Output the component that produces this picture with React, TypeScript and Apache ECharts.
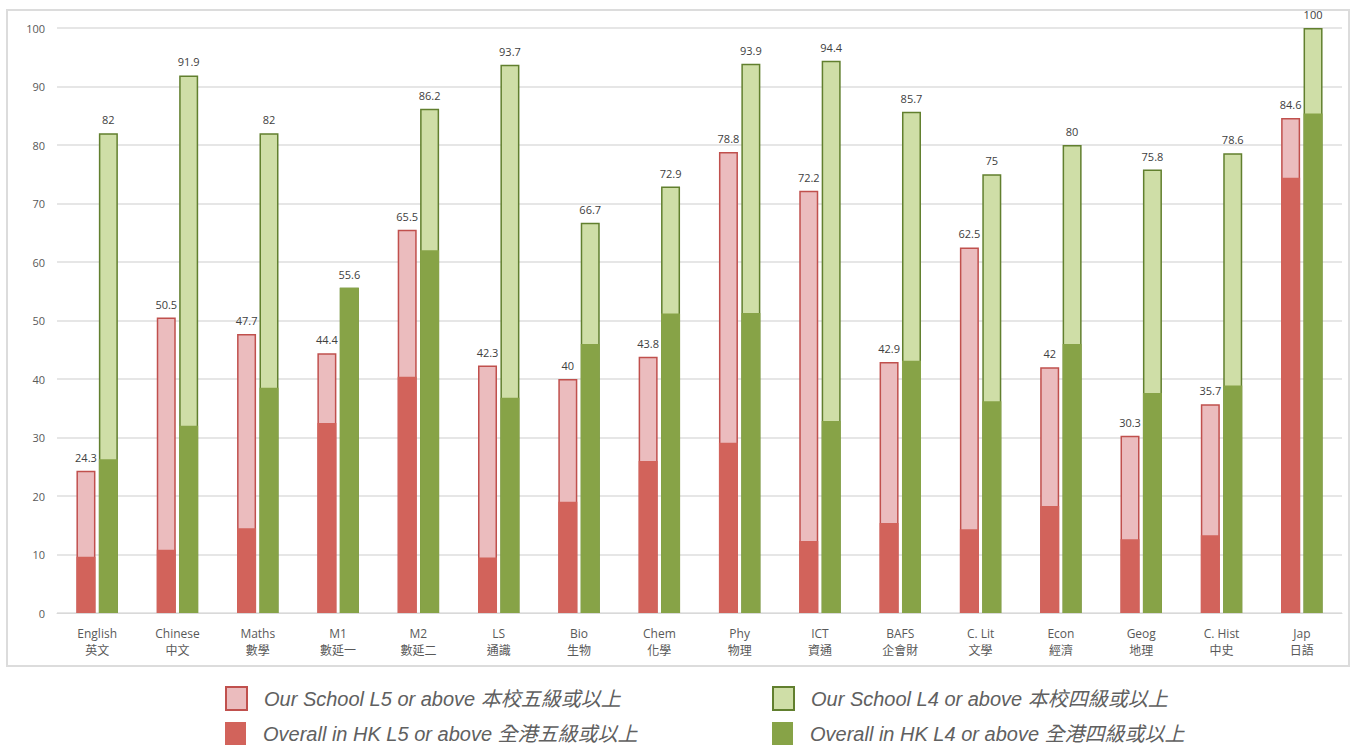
import React, { useEffect, useRef } from "react";
import * as echarts from "echarts";

const categories = [
  "English\n英文", "Chinese\n中文", "Maths\n數學", "M1\n數延一", "M2\n數延二", "LS\n通識",
  "Bio\n生物", "Chem\n化學", "Phy\n物理", "ICT\n資通", "BAFS\n企會財", "C. Lit\n文學",
  "Econ\n經濟", "Geog\n地理", "C. Hist\n中史", "Jap\n日語",
];
const schoolL5 = [24.3, 50.5, 47.7, 44.4, 65.5, 42.3, 40, 43.8, 78.8, 72.2, 42.9, 62.5, 42, 30.3, 35.7, 84.6];
const schoolL4 = [82, 91.9, 82, 55.6, 86.2, 93.7, 66.7, 72.9, 93.9, 94.4, 85.7, 75, 80, 75.8, 78.6, 100];
const hkL5 = [9.6, 10.8, 14.5, 32.5, 40.4, 9.5, 19.0, 26.0, 29.1, 12.3, 15.4, 14.3, 18.3, 12.6, 13.3, 74.4];
const hkL4 = [26.3, 32.0, 38.5, 55.6, 62.0, 36.8, 46.0, 51.2, 51.3, 32.8, 43.1, 36.2, 46.0, 37.6, 38.9, 85.4];

const names = {
  s5: "Our School L5 or above 本校五級或以上",
  h5: "Overall in HK L5 or above 全港五級或以上",
  s4: "Our School L4 or above 本校四級或以上",
  h4: "Overall in HK L4 or above 全港四級或以上",
};

export default function App() {
  const ref = useRef<HTMLDivElement>(null);
  useEffect(() => {
    if (!ref.current) return;
    const chart = echarts.init(ref.current, null, { renderer: "svg" });
    const barW = 19;
    const gap = "18%";
    const label = {
      show: true,
      position: "top",
      distance: 8,
      fontSize: 11,
      color: "#404040",
      fontFamily: "Open Sans, DejaVu Sans, sans-serif",
    };
    const xAxisBase = {
      type: "category",
      data: categories,
      axisTick: { show: false },
    };
    const legendItem = (name: string, left: number, top: number) => ({
      data: [{ name, icon: "rect" }],
      left,
      top,
      padding: 0,
      itemWidth: 21,
      itemHeight: 23,
      textStyle: {
        fontSize: 20,
        fontStyle: "italic",
        color: "#606060",
        fontFamily: "Liberation Sans, Noto Sans CJK TC, sans-serif",
        padding: [0, 0, 0, 12],
      },
    });
    chart.setOption({
      animation: false,
      backgroundColor: "#ffffff",
      textStyle: { fontFamily: "Open Sans, Noto Sans CJK TC, sans-serif" },
      grid: { left: 57, right: 20, top: 28, bottom: 132 },
      graphic: [
        {
          type: "rect",
          shape: { x: 7, y: 10, width: 1342, height: 656 },
          style: { fill: "none", stroke: "#dcdcdc", lineWidth: 2 },
          z: -1,
        },
      ],
      legend: [
        legendItem(names.s5, 225, 686),
        legendItem(names.h5, 225, 722),
        legendItem(names.s4, 772, 686),
        legendItem(names.h4, 772, 722),
      ],
      xAxis: [
        {
          ...xAxisBase,
          axisLine: { show: true, lineStyle: { color: "#d9d9d9", width: 1 } },
          axisLabel: {
            fontSize: 12,
            color: "#595959",
            margin: 12,
            lineHeight: 17,
            interval: 0,
            fontFamily: "Open Sans, Noto Sans CJK TC, sans-serif",
          },
        },
        {
          ...xAxisBase,
          position: "bottom",
          show: false,
        },
      ],
      yAxis: {
        type: "value",
        min: 0,
        max: 100,
        interval: 10,
        axisLine: { show: false },
        axisTick: { show: false },
        axisLabel: {
          fontSize: 11,
          color: "#595959",
          margin: 12,
          fontFamily: "Open Sans, sans-serif",
        },
        splitLine: { lineStyle: { color: "#dedede", width: 1.5 } },
      },
      series: [
        {
          name: names.s5,
          type: "bar",
          xAxisIndex: 0,
          data: schoolL5,
          barWidth: barW,
          barGap: gap,
          itemStyle: { color: "#ebbcbe", borderColor: "#c0504d", borderWidth: 1.5 },
          label,
        },
        {
          name: names.s4,
          type: "bar",
          xAxisIndex: 0,
          data: schoolL4,
          barWidth: barW,
          barGap: gap,
          itemStyle: { color: "#cfdea7", borderColor: "#617f2e", borderWidth: 1.5 },
          label,
        },
        {
          name: names.h5,
          type: "bar",
          xAxisIndex: 1,
          data: hkL5,
          barWidth: barW,
          barGap: gap,
          itemStyle: { color: "#d2635b" },
        },
        {
          name: names.h4,
          type: "bar",
          xAxisIndex: 1,
          data: hkL4,
          barWidth: barW,
          barGap: gap,
          itemStyle: { color: "#87a347" },
        },
      ],
    });
    return () => chart.dispose();
  }, []);
  return (
    <div
      ref={ref}
      style={{ position: "fixed", left: 0, top: 0, width: 1362, height: 745 }}
    />
  );
}
